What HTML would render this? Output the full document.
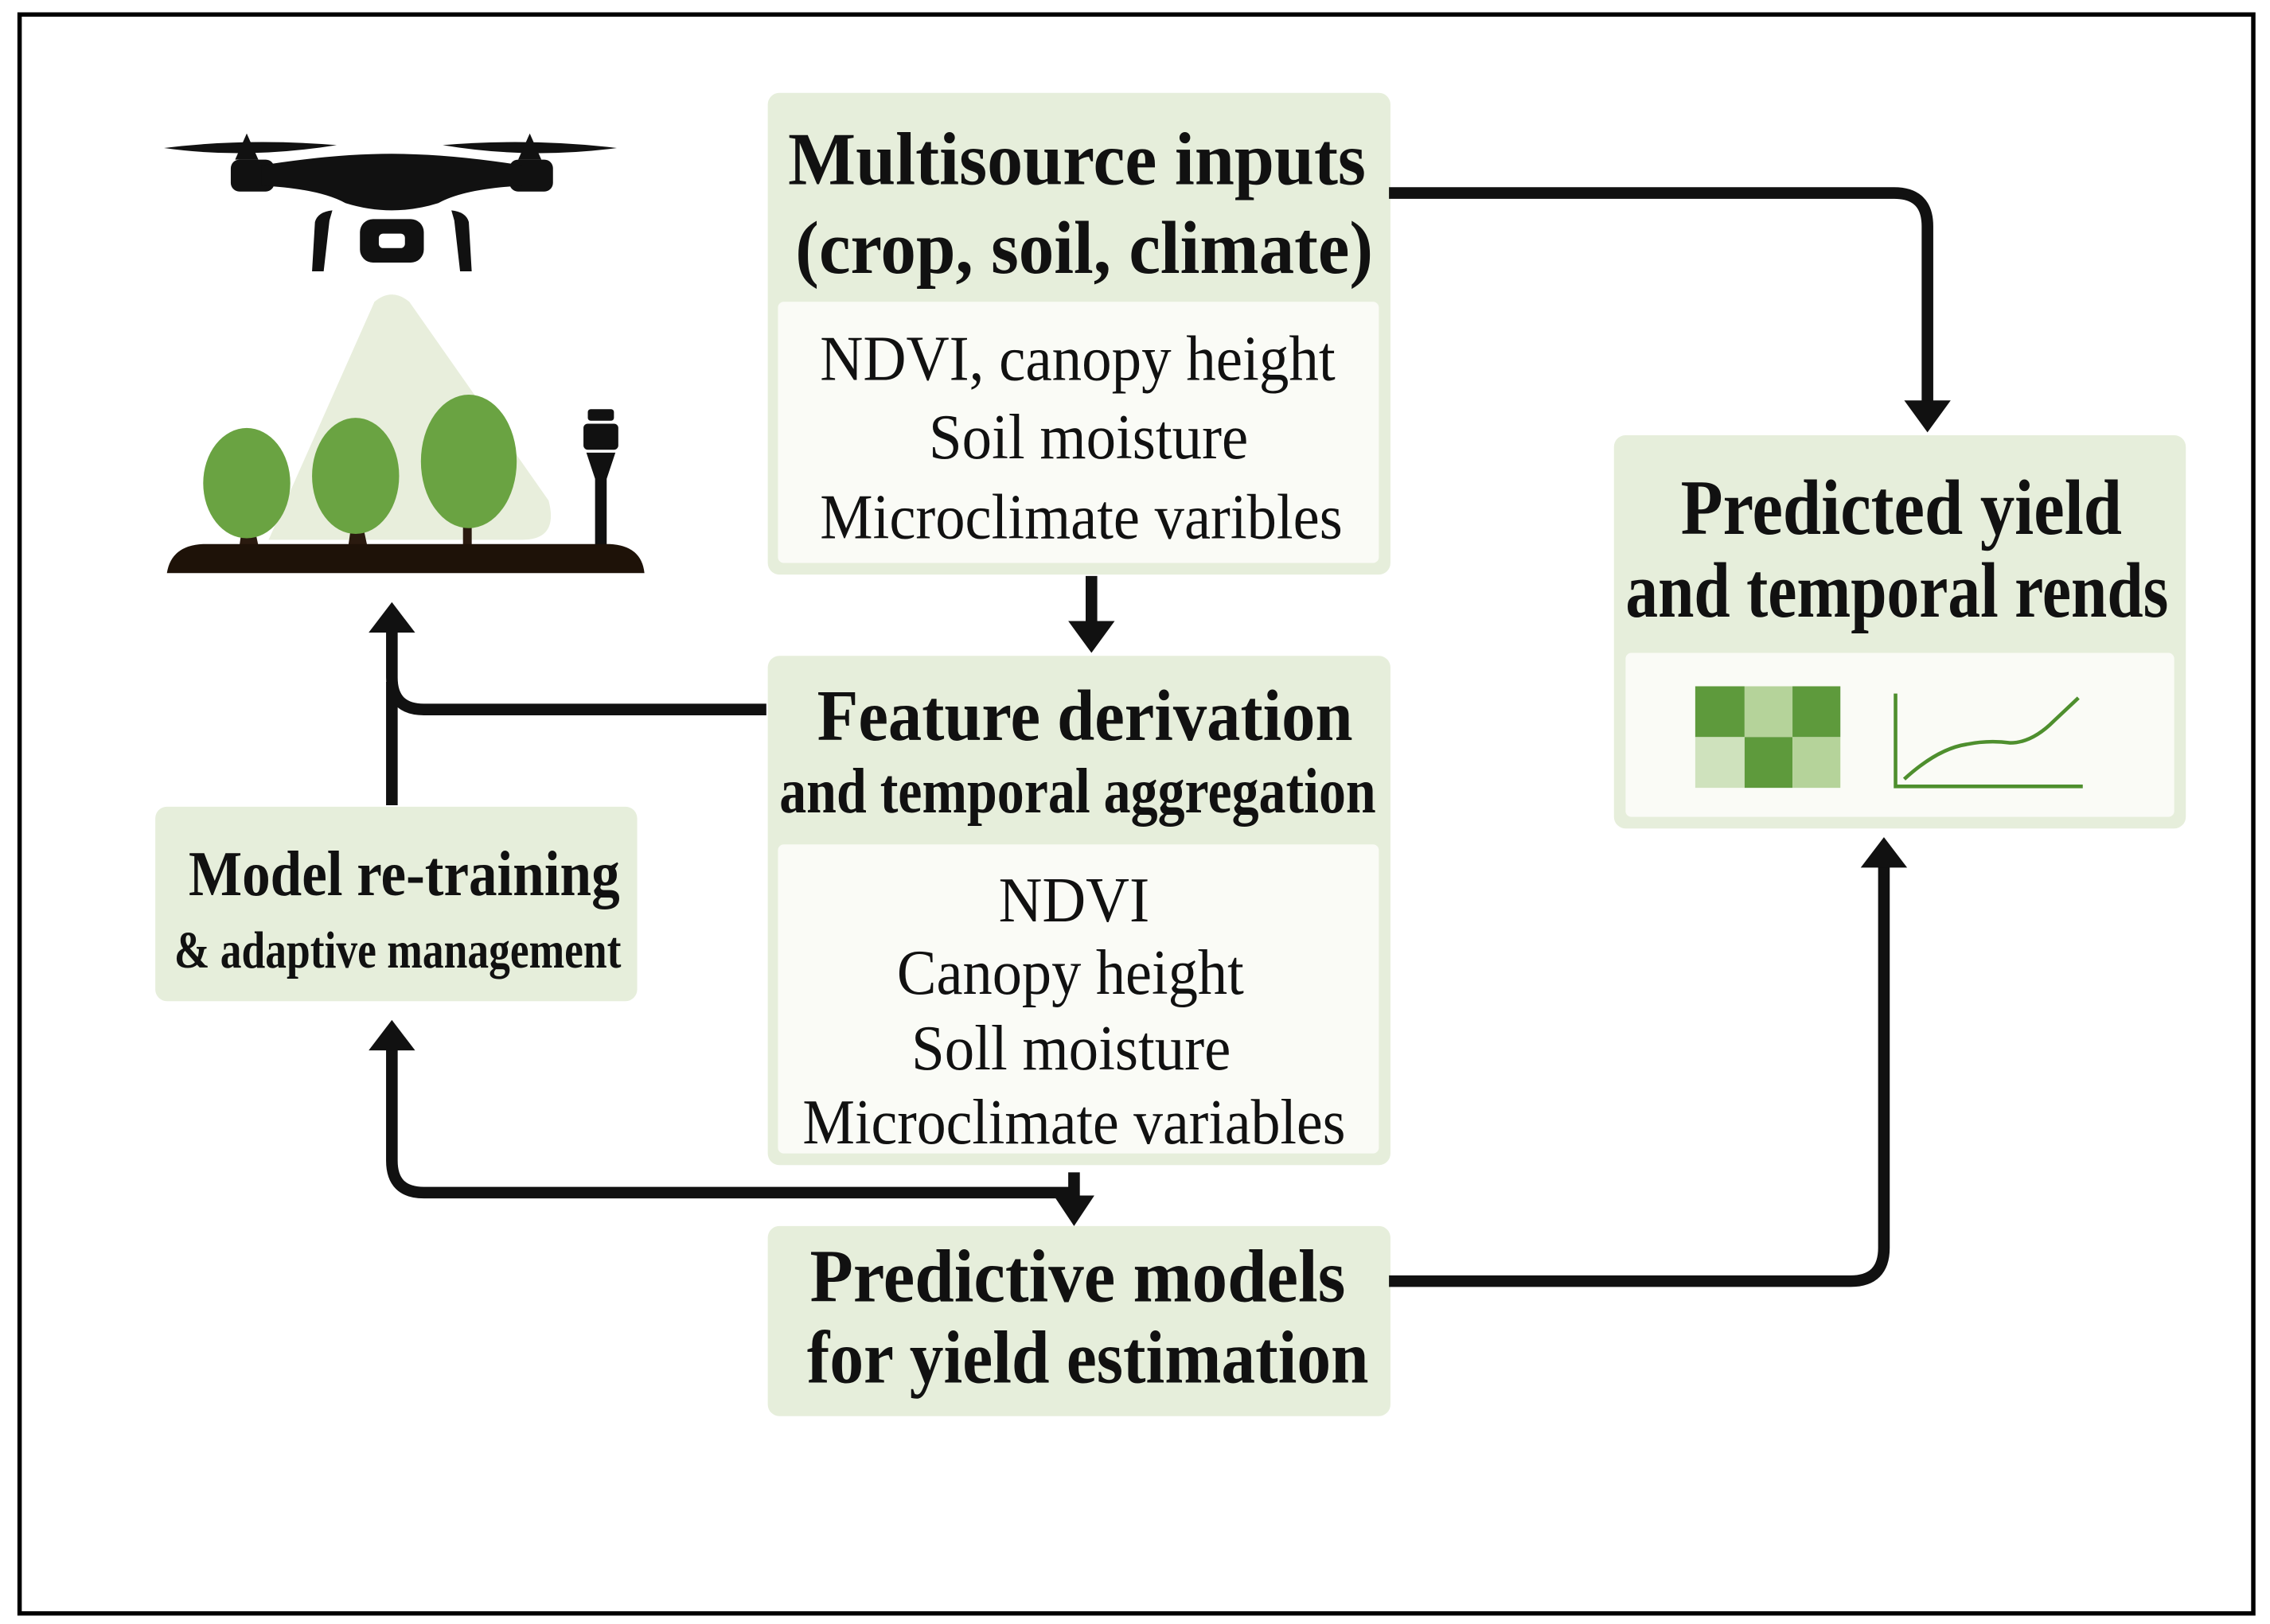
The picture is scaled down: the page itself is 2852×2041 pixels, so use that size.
<!DOCTYPE html>
<html><head><meta charset="utf-8"><style>
html,body{margin:0;padding:0;background:#fff;}
svg{display:block;}
text{font-family:"Liberation Serif",serif;fill:#111;}
</style></head><body>
<svg width="2852" height="2041" viewBox="0 0 1564 1119.3" preserveAspectRatio="none" xmlns="http://www.w3.org/2000/svg">
<rect x="0" y="0" width="1564" height="1120" fill="#fff"/>
<rect x="13.5" y="10" width="1539" height="1102" fill="#fff" stroke="#000" stroke-width="3"/>

<!-- Drone -->
<g fill="#111">
<path d="M113 102 Q170 95 232 100 Q170 110 113 102Z"/>
<path d="M305 100 Q365 95 425 102 Q365 110 305 100Z"/>
<path d="M162 110 L170 92 L178 110Z"/>
<path d="M357 110 L365 92 L373 110Z"/>
<rect x="159" y="110" width="30" height="22" rx="6"/>
<rect x="351" y="110" width="30" height="22" rx="6"/>
<path d="M180 114 Q230 106 270 106 Q310 106 360 114 L360 128 Q320 130 302 140 Q270 150 238 140 Q220 130 180 128Z"/>
<path d="M215 187 L217 153 Q219 146 229 145 L227 152 L223 187Z"/>
<path d="M325 187 L323 153 Q321 146 311 145 L313 152 L317 187Z"/>
<rect x="248" y="151" width="44" height="30" rx="9"/>
<rect x="261" y="161" width="18" height="10" rx="3" fill="#fff"/>
</g>
<!-- cone -->
<path d="M258 208 Q270 198 282 208 L378 345 Q385 372 360 372 L185 372 L186 370 Z" fill="#e8eedc"/>
<!-- trees -->
<g fill="#2a1a0f">
<path d="M165 376 L167 362 L175 362 L178 376Z"/>
<path d="M240 376 L242 362 L250 362 L253 376Z"/>
<rect x="319" y="358" width="6" height="18"/>
</g>
<g fill="#6aa342">
<ellipse cx="170" cy="333" rx="30" ry="38"/>
<ellipse cx="245" cy="328" rx="30" ry="40"/>
<ellipse cx="323" cy="318" rx="33" ry="46"/>
</g>
<!-- sensor -->
<g fill="#111">
<rect x="405" y="282" width="18" height="8" rx="2"/>
<rect x="402" y="292" width="24" height="18" rx="3"/>
<path d="M404 312 L424 312 L418 330 L418 376 L410 376 L410 330Z"/>
</g>
<path d="M115 395 Q118 376 140 375 L420 375 Q442 376 444 395Z" fill="#1e1208"/>

<!-- Boxes -->
<rect x="529" y="64" width="429" height="332" rx="8" fill="#e6eedb"/>
<rect x="536" y="208" width="414" height="180" rx="4" fill="#fafbf6"/>
<rect x="529" y="452" width="429" height="351" rx="8" fill="#e6eedb"/>
<rect x="536" y="582" width="414" height="213" rx="4" fill="#fafbf6"/>
<rect x="529" y="845" width="429" height="131" rx="8" fill="#e6eedb"/>
<rect x="1112" y="300" width="394" height="271" rx="8" fill="#e6eedb"/>
<rect x="1120" y="450" width="378" height="113" rx="4" fill="#fafbf6"/>
<rect x="107" y="556" width="332" height="134" rx="8" fill="#e6eedb"/>

<!-- Texts -->
<g font-weight="bold">
<text x="543" y="127" font-size="52" textLength="398" lengthAdjust="spacingAndGlyphs">Multisource inputs</text>
<text x="548" y="188" font-size="52" textLength="398" lengthAdjust="spacingAndGlyphs">(crop, soil, climate)</text>
<text x="563" y="510" font-size="50" textLength="369" lengthAdjust="spacingAndGlyphs">Feature derivation</text>
<text x="537" y="560" font-size="44" textLength="411" lengthAdjust="spacingAndGlyphs">and temporal aggregation</text>
<text x="558" y="897" font-size="52" textLength="369" lengthAdjust="spacingAndGlyphs">Predictive models</text>
<text x="556" y="953" font-size="52" textLength="387" lengthAdjust="spacingAndGlyphs">for yield estimation</text>
<text x="1158" y="368" font-size="54" textLength="304" lengthAdjust="spacingAndGlyphs">Predicted yield</text>
<text x="1120" y="425" font-size="54" textLength="374" lengthAdjust="spacingAndGlyphs">and temporal rends</text>
<text x="130" y="617" font-size="44" textLength="297" lengthAdjust="spacingAndGlyphs">Model re-training</text>
<text x="120" y="667" font-size="36" textLength="308" lengthAdjust="spacingAndGlyphs">&amp; adaptive management</text>
</g>
<g font-size="44">
<text x="565" y="262" textLength="355" lengthAdjust="spacingAndGlyphs">NDVI, canopy height</text>
<text x="640" y="316" textLength="220" lengthAdjust="spacingAndGlyphs">Soil moisture</text>
<text x="565" y="371" textLength="360" lengthAdjust="spacingAndGlyphs">Microclimate varibles</text>
<text x="688" y="635" textLength="104" lengthAdjust="spacingAndGlyphs">NDVI</text>
<text x="618" y="685" textLength="239" lengthAdjust="spacingAndGlyphs">Canopy height</text>
<text x="628" y="737" textLength="220" lengthAdjust="spacingAndGlyphs">Soll moisture</text>
<text x="553" y="788" textLength="374" lengthAdjust="spacingAndGlyphs">Microclimate variables</text>
</g>

<!-- icons in predicted box -->
<g>
<rect x="1168" y="473" width="34" height="35" fill="#5e9a3c"/>
<rect x="1202" y="473" width="33" height="35" fill="#b5d39a"/>
<rect x="1235" y="473" width="33" height="35" fill="#5e9a3c"/>
<rect x="1168" y="508" width="34" height="35" fill="#cfe2bd"/>
<rect x="1202" y="508" width="33" height="35" fill="#5e9a3c"/>
<rect x="1235" y="508" width="33" height="35" fill="#b5d39a"/>
</g>
<path d="M1306 478 V542 H1435" fill="none" stroke="#4e8f2e" stroke-width="2.5"/>
<path d="M1312 537 Q1335 516 1355 513 Q1370 510 1385 512 Q1400 512 1415 497 L1432 481" fill="none" stroke="#4e8f2e" stroke-width="2.5"/>

<!-- Connectors -->
<g fill="none" stroke="#111" stroke-width="8">
<path d="M957 133 H1305 Q1328 133 1328 156 V280"/>
<path d="M752 397 V430"/>
<path d="M957 883 H1275 Q1298 883 1298 860 V595"/>
<path d="M528 489 H292 Q270 489 270 467 V432"/>
<path d="M270 555 V470"/>
<path d="M740 822 H292 Q270 822 270 800 V720"/>
<path d="M740 808 V828"/>
</g>
<g fill="#111">
<path d="M1312 276 L1344 276 L1328 298Z"/>
<path d="M736 428 L768 428 L752 450Z"/>
<path d="M1282 598 L1314 598 L1298 577Z"/>
<path d="M254 436 L286 436 L270 415Z"/>
<path d="M254 724 L286 724 L270 703Z"/>
<path d="M726 824 L754 824 L740 845Z"/>
</g>
</svg>
</body></html>
